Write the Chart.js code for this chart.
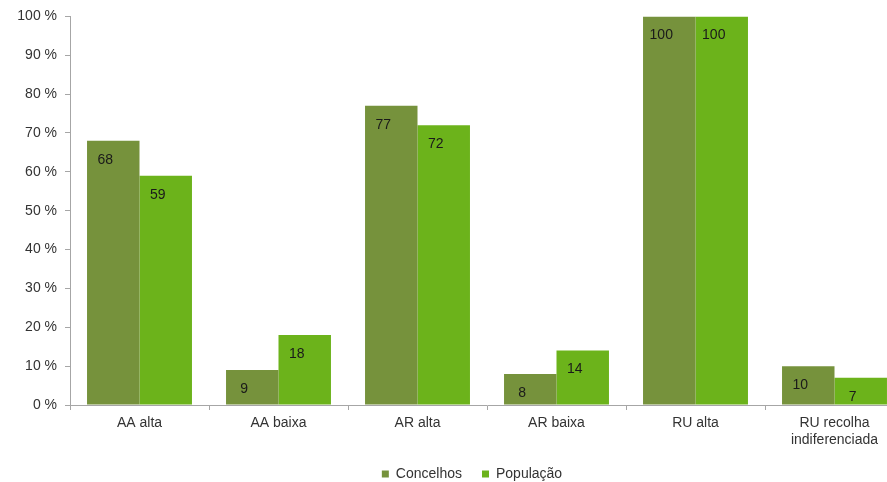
<!DOCTYPE html>
<html lang="pt">

<head>
    <meta charset="UTF-8">
    <script src="https://cdn.jsdelivr.net/npm/chart.js@4.4.0/dist/chart.umd.min.js"></script>
    <title>Concelhos e População</title>
    <style>
        html, body { margin: 0; padding: 0; background: #fff; overflow: hidden; }
        #wrap { width: 940px; height: 482px; }
    </style>
</head>

<body>
    <div id="wrap"><canvas id="myChart" width="940" height="482"></canvas></div>
    <script>

        // categorias e valores (%)
        const categorias = ['AA alta', 'AA baixa', 'AR alta', 'AR baixa', 'RU alta', ['RU recolha', 'indiferenciada']];
        const concelhos = [68, 9, 77, 8, 100, 10];
        const populacao = [59, 18, 72, 14, 100, 7];
        const yTicks = [0, 10, 20, 30, 40, 50, 60, 70, 80, 90, 100];

        const fonte = "'Liberation Sans', Arial, sans-serif";
        const cinza = '#a6a6a6';

        Chart.defaults.font.family = fonte;
        Chart.defaults.font.size = 14;
        Chart.defaults.color = '#333333';

        // escreve o valor dentro de cada barra, perto do topo
        const rotulos = {
            id: 'rotulos',
            afterDatasetsDraw(chart) {
                const ctx = chart.ctx;
                ctx.save();
                ctx.font = '14px ' + fonte;
                ctx.fillStyle = '#1a1a1a';
                ctx.textAlign = 'center';
                ctx.textBaseline = 'middle';
                chart.data.datasets.forEach((ds, i) => {
                    chart.getDatasetMeta(i).data.forEach((bar, j) => {
                        ctx.fillText(String(ds.data[j]), bar.x - 8, bar.y + 19);
                    });
                });
                ctx.restore();
            }
        };

        // desloca a legenda um pouco para a direita
        const moveLegenda = {
            id: 'moveLegenda',
            afterLayout(chart) {
                const lg = chart.legend;
                lg.left += 20; lg.right += 20;
                lg.top += 1; lg.bottom += 1;
            }
        };

        var ctx = document.getElementById('myChart').getContext('2d');
        var myChart = new Chart(ctx, {
            type: 'bar',
            data: {
                labels: categorias,
                datasets: [{
                    label: 'Concelhos',
                    data: concelhos,
                    backgroundColor: '#76923c',
                    categoryPercentage: 0.755,
                    barPercentage: 1
                }, {
                    label: 'População',
                    data: populacao,
                    backgroundColor: '#6cb31b',
                    categoryPercentage: 0.755,
                    barPercentage: 1
                }]
            },
            plugins: [rotulos, moveLegenda],
            options: {
                responsive: false,
                animation: false,
                events: [],
                layout: { padding: { left: 0, right: 36, top: 10, bottom: -8 } },
                plugins: {
                    tooltip: { enabled: false },
                    legend: {
                        position: 'bottom',
                        labels: {
                            boxWidth: 7,
                            boxHeight: 7,
                            padding: 20,
                            color: '#333333',
                            font: { size: 14 }
                        }
                    }
                },
                scales: {
                    x: {
                        grid: { drawOnChartArea: false, tickLength: 5, color: cinza, offset: true },
                        border: { color: cinza },
                        ticks: { padding: 5, maxRotation: 0, autoSkip: false, color: '#333333' },
                        afterFit: s => { s.height = 41; }
                    },
                    y: {
                        min: 0,
                        max: 100,
                        afterBuildTicks: s => { s.ticks = yTicks.map(v => ({ value: v })); },
                        afterFit: s => { s.width = 70; },
                        grid: { drawOnChartArea: false, tickLength: 5, color: cinza },
                        border: { color: cinza },
                        ticks: {
                            padding: 8,
                            color: '#333333',
                            callback: v => v + ' %'
                        }
                    }
                }
            }
        });

    </script>

</body>

</html>
